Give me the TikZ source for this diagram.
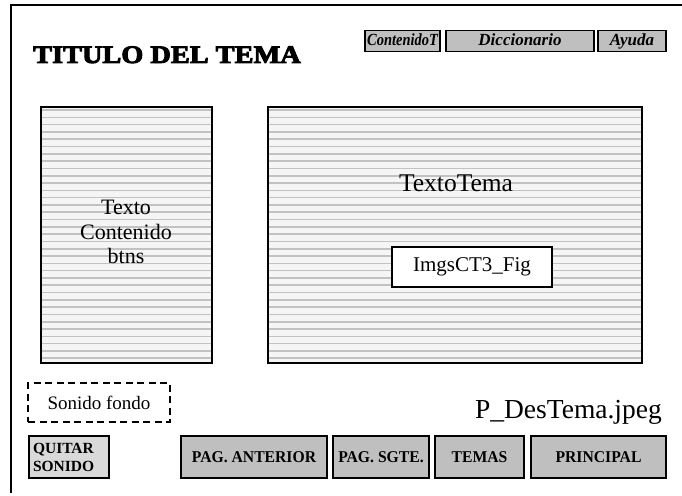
\documentclass[tikz,border=0pt]{standalone}
\usepackage{fontspec}
\setmainfont{Liberation Serif}
\newfontfamily\heavytitle[FakeBold=3.5]{Liberation Serif}
\begin{document}
\begin{tikzpicture}[x=1pt,y=-1pt,
  frame/.style={draw=black,line width=1.4pt},
  panel/.style={draw=black,line width=1.4pt},
  btnbase/.style={draw=black,line width=1.3pt,fill=gray!50,inner sep=0pt,minimum height=42pt},
  btn/.style={btnbase,font=\fontsize{16.5}{17}\selectfont\bfseries,text height=11pt,text depth=0pt},
  quitbtn/.style={btnbase,fill=gray!30,font=\fontsize{15.5}{18}\selectfont\bfseries,align=left,inner xsep=4pt},
  topbtn/.style={draw=black,line width=1.3pt,fill=gray!50,font=\fontsize{17}{17}\selectfont\bfseries\itshape,inner sep=0pt,minimum height=21pt,text height=11.5pt,text depth=3pt},
  stripe/.style={draw=black!24,line width=1.6pt},
  lbl/.style={inner sep=0pt,align=center}]
\useasboundingbox (0,0) rectangle (682,495);
% outer frame (only top and left visible)
\draw[frame] (682,5) -- (11,5) -- (11,493);
% title
\node[lbl,anchor=base west] (title) at (33,63)
  {\scalebox{1.18}[1.05]{\fontsize{24}{24}\selectfont\heavytitle\bfseries TITULO DEL TEMA}};
% top buttons
\node[topbtn,minimum width=75pt] (cont) at (402.5,41) {\scalebox{0.85}[1]{ContenidoT}};
\node[topbtn,minimum width=148pt] (dicc) at (520,41) {Diccionario};
\node[topbtn,minimum width=68pt] (ayuda) at (632,41) {Ayuda};
% left panel
\fill[black!4] (41,107) rectangle (212,363);
\foreach \k in {0,...,34} {
  \draw[stripe] (42,{110+7.3*\k}) -- (211,{110+7.3*\k});
}
\draw[panel] (41,107) rectangle (212,363);
\node[lbl,font=\fontsize{22}{24.5}\selectfont] (texto) at (126,232) {Texto\\Contenido\\btns};
% right panel
\fill[black!4] (268,107) rectangle (642,363);
\foreach \k in {0,...,34} {
  \draw[stripe] (269,{110+7.3*\k}) -- (641,{110+7.3*\k});
}
\draw[panel] (268,107) rectangle (642,363);
\node[lbl,font=\fontsize{25.5}{25.5}\selectfont] (textotema) at (456,183) {TextoTema};
\node[draw=black,line width=1.3pt,fill=white,minimum width=160pt,minimum height=40pt,inner sep=0pt,font=\fontsize{21}{21}\selectfont] (img) at (472,267) {ImgsCT3\_Fig};
% sonido fondo
\node[draw=black,line width=1.3pt,dash pattern=on 7pt off 4.5pt,minimum width=142pt,minimum height=39pt,inner sep=0pt,font=\fontsize{19}{19}\selectfont] (sonido) at (99,402.5) {Sonido fondo};
% file name
\node[lbl,anchor=base east,font=\fontsize{27.5}{27.5}\selectfont] (fname) at (662,418) {P\_DesTema.jpeg};
% bottom buttons
\node[quitbtn,minimum width=80pt,text width=72pt] (quitar) at (69,457) {QUITAR\\SONIDO};
\node[btn,minimum width=146pt] (ant) at (254,457) {\scalebox{0.95}[1]{PAG. ANTERIOR}};
\node[btn,minimum width=96pt] (sgte) at (381,457) {\scalebox{0.95}[1]{PAG. SGTE.}};
\node[btn,minimum width=89pt] (temas) at (479.5,457) {\scalebox{0.95}[1]{TEMAS}};
\node[btn,minimum width=135pt] (princ) at (598.5,457) {\scalebox{0.95}[1]{PRINCIPAL}};
\end{tikzpicture}
\end{document}
